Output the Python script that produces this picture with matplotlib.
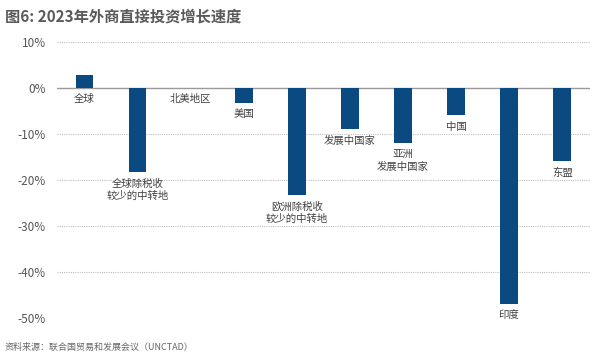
import matplotlib
matplotlib.use("Agg")
import matplotlib.pyplot as plt

plt.rcParams['font.family'] = ['Noto Sans CJK SC', 'DejaVu Sans']

# data
regions = ["全球", "全球除税收\n较少的中转地", "北美地区", "美国", "欧洲除税收\n较少的中转地",
           "发展中国家", "亚洲\n发展中国家", "中国", "印度", "东盟"]
growth = [2.8, -18.3, 0.0, -3.3, -23.3, -9.0, -12.0, -6.0, -47.0, -16.0]
yticks = [10, 0, -10, -20, -30, -40, -50]

bar_color = "#0b4a80"

fig = plt.figure(figsize=(6, 3.58), dpi=100)
ax = fig.add_axes([0.095, 0.112, 0.888, 0.771])

x = list(range(len(regions)))
ax.bar(x, growth, width=0.33, color=bar_color, zorder=3)

# grid
for t in yticks:
    if t == 0:
        ax.axhline(0, color="#9a9a9a", lw=1.0, zorder=2)
    else:
        ax.axhline(t, color="#c0c0c0", lw=0.8, ls=(0, (1, 1)), zorder=1)

# labels under the bars
for xi, v, name in zip(x, growth, regions):
    base = min(v, 0)
    ax.annotate(name, xy=(xi, base), xytext=(0, -4.5), textcoords="offset points",
                ha="center", va="top", fontsize=7.5, color="#404040",
                linespacing=1.3, zorder=4)

ax.set_xlim(-0.52, len(regions) - 0.48)
ax.set_ylim(-50, 10)
ax.set_yticks(yticks)
ax.set_yticklabels([f"{t}%" for t in yticks], fontsize=8.5, color="#555555")
ax.set_xticks([])
ax.tick_params(axis="y", length=0, pad=8)
for s in ax.spines.values():
    s.set_visible(False)

fig.text(0.008, 0.955, "图6: 2023年外商直接投资增长速度", fontsize=11, fontweight="bold",
         color="#5a5a5a", ha="left", va="center")
fig.text(0.008, 0.03, "资料来源：联合国贸易和发展会议（UNCTAD）", fontsize=6.5, style="italic",
         color="#666666", ha="left", va="center")

fig.savefig("out.png", dpi=100)
